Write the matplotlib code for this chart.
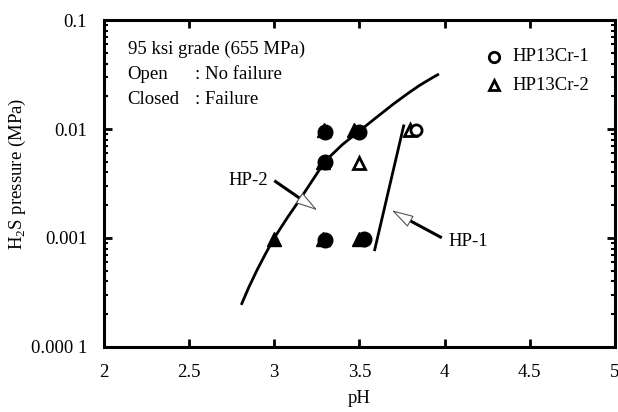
import numpy as np
import matplotlib
matplotlib.use("Agg")
import matplotlib.pyplot as plt
from matplotlib.ticker import FixedLocator, LogLocator, NullFormatter

plt.rcParams["font.family"] = ["Liberation Serif", "DejaVu Serif"]
plt.rcParams["mathtext.fontset"] = "custom"
plt.rcParams["mathtext.rm"] = "Liberation Serif"

# HP13Cr-1 (circles)
c1_fail_ph = [3.30, 3.30, 3.30, 3.50, 3.53]
c1_fail_p = [0.00095, 0.005, 0.0095, 0.0095, 0.00098]
c1_ok_ph = [3.83]
c1_ok_p = [0.0098]

# HP13Cr-2 (triangles)
c2_fail_ph = [3.00, 3.285, 3.285, 3.29, 3.47, 3.50]
c2_fail_p = [0.00098, 0.00098, 0.005, 0.0098, 0.0098, 0.00098]
c2_ok_ph = [3.50, 3.80]
c2_ok_p = [0.0049, 0.0098]

# HP-2 boundary curve
hp2_ph = [2.81, 2.85, 2.90, 2.95, 3.00, 3.08, 3.15, 3.22, 3.30, 3.40, 3.50, 3.60, 3.70, 3.78, 3.85, 3.91, 3.96]
hp2_p = [0.00025, 0.00035, 0.00051, 0.00072, 0.00100, 0.00156, 0.00225, 0.00330, 0.0051, 0.0072, 0.0096, 0.0128, 0.0170, 0.0210, 0.0250, 0.0285, 0.0316]

# HP-1 boundary line
hp1_ph = [3.59, 3.76]
hp1_p = [0.00078, 0.0107]

xticks = [2, 2.5, 3, 3.5, 4, 4.5, 5]
xtick_labels = ["2", "2.5", "3", "3.5", "4", "4.5", "5"]
yticks = [0.0001, 0.001, 0.01, 0.1]
ytick_labels = ["0.000 1", "0.001", "0.01", "0.1"]

fs = 13.5

fig = plt.figure(figsize=(6.18, 4.12), dpi=100)
ax = fig.add_axes([0.168, 0.158, 0.827, 0.793])
ax.set_yscale("log")
ax.set_xlim(2, 5)
ax.set_ylim(0.0001, 0.1)

mew = 2.0
ax.plot(c2_fail_ph, c2_fail_p, "^", ms=9.5, color="black", mec="black", zorder=4)
ax.plot(c1_fail_ph, c1_fail_p, "o", ms=10.5, color="black", mec="black", zorder=4)
ax.plot(c2_ok_ph, c2_ok_p, "^", ms=8, mfc="white", mec="black", mew=mew, zorder=4)
ax.plot(c1_ok_ph, c1_ok_p, "o", ms=8, mfc="white", mec="black", mew=mew, zorder=5)

ax.plot(hp2_ph, hp2_p, "-", color="black", lw=2.0, zorder=3)
ax.plot(hp1_ph, hp1_p, "-", color="black", lw=2.0, zorder=3)


def leader(tail, base, tip):
    ax.plot([tail[0], base[0]], [tail[1], base[1]], color="black", lw=2.2, zorder=6)
    ax.annotate("", xy=tip, xytext=base,
                arrowprops=dict(arrowstyle="-|>,head_length=1.4,head_width=0.4",
                                fc="white", ec="#555555", lw=0.8,
                                shrinkA=0, shrinkB=0), zorder=6)


leader((3.008, 0.0033), (3.18, 0.00215), (3.253, 0.0018))
ax.text(2.965, 0.0034, "HP-2", ha="right", va="center", fontsize=fs)
leader((3.976, 0.00102), (3.76, 0.00155), (3.69, 0.0018))
ax.text(4.02, 0.00092, "HP-1", ha="left", va="center", fontsize=fs)

ax.text(2.14, 0.0540, "95 ksi grade (655 MPa)", fontsize=fs, va="center")
ax.text(2.14, 0.0320, "Open", fontsize=fs, va="center")
ax.text(2.535, 0.0320, ": No failure", fontsize=fs, va="center")
ax.text(2.14, 0.0188, "Closed", fontsize=fs, va="center")
ax.text(2.535, 0.0188, ": Failure", fontsize=fs, va="center")

# legend drawn by hand as marker + label pairs
ax.plot([4.29], [0.046], "o", ms=7.5, mfc="white", mec="black", mew=mew, clip_on=False)
ax.text(4.40, 0.046, "HP13Cr-1", fontsize=fs, va="center")
ax.plot([4.29], [0.0253], "^", ms=7.5, mfc="white", mec="black", mew=mew, clip_on=False)
ax.text(4.40, 0.0253, "HP13Cr-2", fontsize=fs, va="center")

ax.xaxis.set_major_locator(FixedLocator(xticks))
ax.set_xticklabels(xtick_labels)
ax.yaxis.set_major_locator(FixedLocator(yticks))
ax.set_yticklabels(ytick_labels)
ax.yaxis.set_minor_locator(LogLocator(base=10, subs=np.arange(2, 10), numticks=20))
ax.yaxis.set_minor_formatter(NullFormatter())

for s in ax.spines.values():
    s.set_linewidth(2.2)
ax.tick_params(which="major", direction="in", length=6, width=2.0,
               top=True, right=True, labelsize=fs, pad=12)
ax.tick_params(which="minor", direction="in", length=3, width=1.5,
               left=True, right=True)

ax.set_xlabel("pH", fontsize=fs, labelpad=7)
ax.set_ylabel("H$_2$S pressure (MPa)", fontsize=fs)
ax.yaxis.set_label_coords(-0.149, 0.528)

fig.savefig("out.png", dpi=100)
